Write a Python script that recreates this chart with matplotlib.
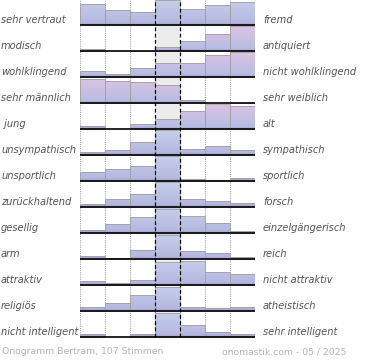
import numpy as np
import matplotlib
matplotlib.use("Agg")
import matplotlib.pyplot as plt
from matplotlib.patches import Rectangle
from matplotlib.colors import LinearSegmentedColormap
import matplotlib.transforms as mtransforms

# ---- data ----
left_labels = ["sehr vertraut", "modisch", "wohlklingend", "sehr männlich", " jung",
               "unsympathisch", "unsportlich", "zurückhaltend", "gesellig", "arm",
               "attraktiv", "religiös", "nicht intelligent"]
right_labels = ["fremd", "antiquiert", "nicht wohlklingend", "sehr weiblich", "alt",
                "sympathisch", "sportlich", "forsch", "einzelgängerisch", "reich",
                "nicht attraktiv", "atheistisch", "sehr intelligent"]
values = [
    [20.3, 15.0, 12.3, 24.0, 15.3, 19.3, 22.3],
    [2.0, 0.0, 0.4, 4.0, 10.0, 17.0, 24.7],
    [6.0, 2.7, 9.0, 14.3, 14.3, 22.3, 24.7],
    [24.7, 22.3, 21.0, 18.0, 3.0, 0.0, 0.3],
    [3.3, 0.0, 4.7, 10.0, 17.7, 24.7, 22.7],
    [3.3, 5.0, 12.7, 24.0, 6.3, 8.7, 4.7],
    [8.7, 11.7, 14.7, 23.7, 1.5, 1.0, 2.5],
    [3.3, 8.0, 13.3, 25.3, 8.0, 6.0, 4.3],
    [2.7, 9.0, 15.7, 24.3, 16.7, 10.0, 2.3],
    [2.7, 1.3, 9.3, 24.7, 8.0, 6.0, 1.7],
    [4.0, 1.7, 5.0, 22.7, 24.7, 12.7, 10.7],
    [4.3, 7.7, 16.0, 24.0, 4.0, 3.0, 4.0],
    [3.0, 0.0, 3.0, 23.3, 11.3, 4.3, 3.3],
]
pink_rows = [1, 2, 3, 4]
footer_left = "Onogramm Bertram, 107 Stimmen"
footer_right = "onomastik.com - 05 / 2025"

# ---- layout ----
W, H = 370, 360
fig = plt.figure(figsize=(W / 100, H / 100), dpi=100)
fig.patch.set_facecolor("white")
nrows = len(values)
ncols = 7
row_px = 26.0
x0_px, x1_px = 79.5, 254.5
top_px, bot_px = 0.0, 340.0
ax = fig.add_axes([x0_px / W, (H - bot_px) / H, (x1_px - x0_px) / W, (bot_px - top_px) / H])
ax.axis("off")

fill_frac = 24.5 / 26.0

# background middle column
ax.add_patch(Rectangle((3, 0), 1, nrows - 1.0 / row_px, facecolor="#ececec", edgecolor="none", zorder=0))

# dotted grid lines behind bars
for xc in [0, 1, 2, 5, 6, 7]:
    ax.plot([xc, xc], [0, nrows], color="#9a9a9a", linestyle=(0, (1, 1.2)), linewidth=0.7, zorder=1)

cm_blue = LinearSegmentedColormap.from_list("b", [(0, "#a69cd2"), (0.1, "#b5b8e0"), (1, "#c6cfeb")])
cm_pink = LinearSegmentedColormap.from_list("p", [(0, "#a69cd2"), (0.1, "#b8bde2"), (1, "#dcc3e4")])
grad = np.linspace(0, 1, 64).reshape(-1, 1)

for i, row in enumerate(values):
    base = nrows - 1 - i
    mx = max(row)
    cm = cm_pink if i in pink_rows else cm_blue
    for j, v in enumerate(row):
        h = v / mx * fill_frac
        if h <= 0:
            continue
        rect = Rectangle((j, base), 1, h, facecolor="none", edgecolor="#a0a0a0", linewidth=0.6, zorder=3)
        ax.add_patch(rect)
        im = ax.imshow(grad, cmap=cm, origin="lower", aspect="auto",
                       extent=(j, j + 1, base, base + fill_frac), zorder=2, interpolation="bilinear")
        im.set_clip_path(Rectangle((j, base), 1, h, transform=ax.transData))
    ax.plot([0, ncols], [base, base], color="black", linewidth=1.2, zorder=5, solid_capstyle="butt")

# dashed middle lines
for xc in [3, 4]:
    ax.plot([xc, xc], [0, nrows], color="black", linestyle=(0, (3, 2)), linewidth=0.9, zorder=4)

ax.set_xlim(0, ncols)
ax.set_ylim(-(bot_px - 337.0) / row_px, nrows - 1.0 / row_px)

# labels
trans = mtransforms.blended_transform_factory(fig.transFigure, ax.transData)
for i in range(nrows):
    base = nrows - 1 - i
    yl = base + 5.0 / row_px
    ax.text(1.0 / W, yl, left_labels[i], transform=trans, ha="left", va="center",
            fontsize=7.1, style="italic", color="#555555", clip_on=False)
    ax.text(263.0 / W, yl, right_labels[i], transform=trans, ha="left", va="center",
            fontsize=7.1, style="italic", color="#555555", clip_on=False)

fig.text(2.0 / W, 1 - 352.0 / H, footer_left, ha="left", va="center", fontsize=6.7, color="#b5b5b5")
fig.text(346.0 / W, 1 - 352.0 / H, footer_right, ha="right", va="center", fontsize=6.7, color="#b5b5b5")

fig.savefig("out.png", dpi=100)
